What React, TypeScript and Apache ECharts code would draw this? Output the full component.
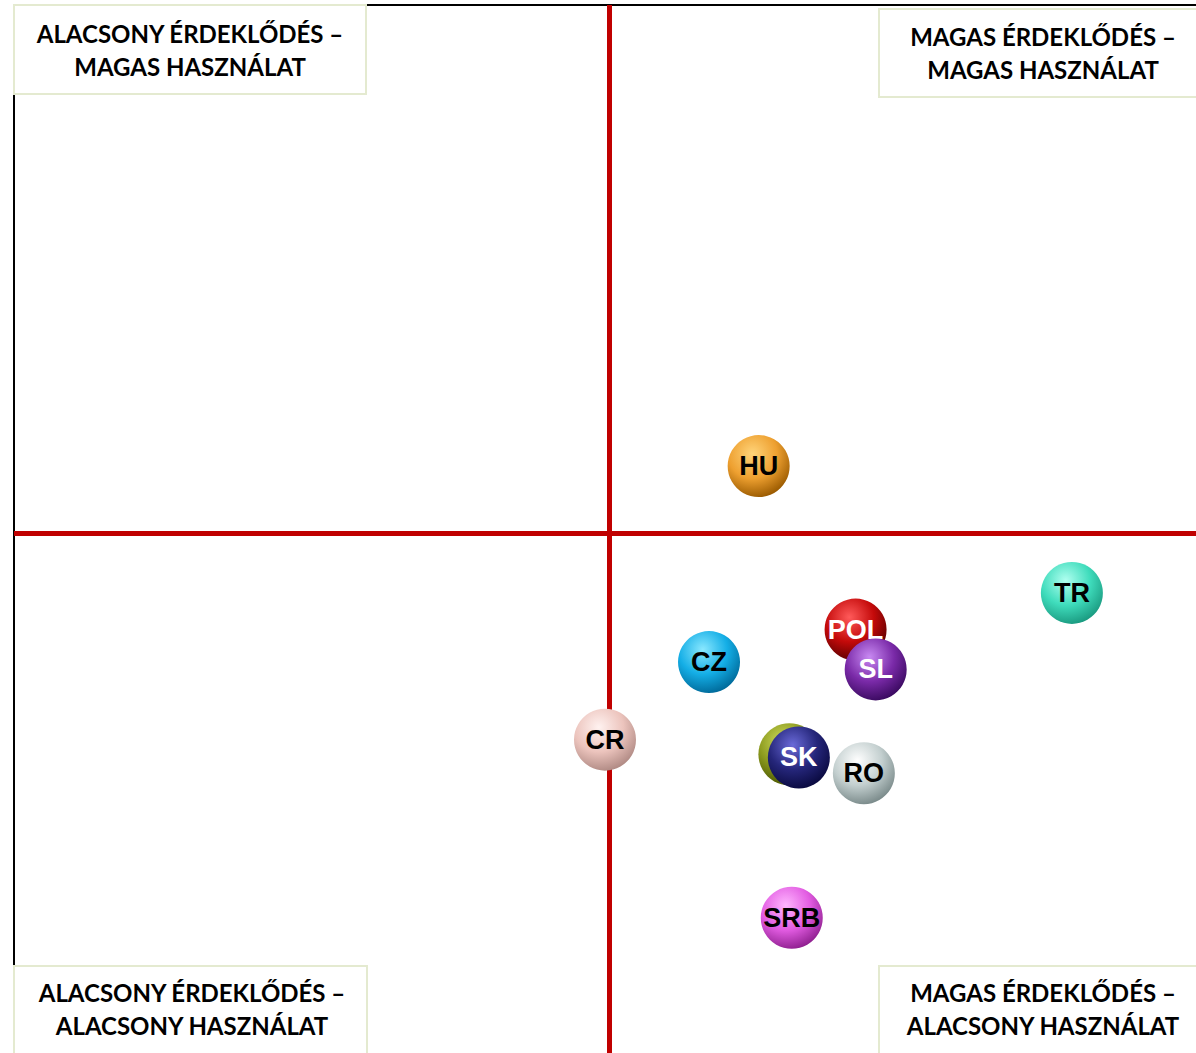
import React, { useEffect, useRef } from "react";
import * as echarts from "echarts";

const countries = ["HU", "TR", "CZ", "CR", "POL", "SL", "RO", "BG", "SK", "SRB"];
const interest = [6.3, 8.95, 5.88, 5.0, 7.12, 7.29, 7.19, 6.56, 6.64, 6.58];
const usage = [5.6, 4.39, 3.73, 2.99, 4.04, 3.66, 2.67, 2.85, 2.82, 1.29];
const baseColors = ["#eea030", "#3fdcbc", "#14aee6", "#ecc4bd", "#c40a0a", "#7a2aa8", "#c3cfcf", "#8c9a1e", "#25267a", "#e25ce2"];
const lightColors = ["#ffd47a", "#b0fff0", "#8ae8ff", "#fff2f0", "#ff5a5a", "#c889f2", "#ffffff", "#d2e060", "#6a6ad8", "#ffb6ff"];
const darkColors = ["#9a5a00", "#1a9a80", "#006a9a", "#b08a84", "#5a0000", "#3a0a60", "#7a8a8a", "#4a5600", "#0a0a40", "#902090"];
const labelColors = ["#000", "#000", "#000", "#000", "#fff", "#fff", "#000", "#000", "#fff", "#000"];

const midInterest = 5.04;
const midUsage = 4.96;

const quadrantTexts = [
  "ALACSONY ÉRDEKLŐDÉS –\nMAGAS HASZNÁLAT",
  "MAGAS ÉRDEKLŐDÉS –\nMAGAS HASZNÁLAT",
  "ALACSONY ÉRDEKLŐDÉS –\nALACSONY HASZNÁLAT",
  "MAGAS ÉRDEKLŐDÉS –\nALACSONY HASZNÁLAT",
];

export default function App() {
  const ref = useRef<HTMLDivElement>(null);
  useEffect(() => {
    document.body.style.margin = "0";
    const chart = echarts.init(ref.current!, undefined, { renderer: "svg" });

    const bubbleSeries = countries.map((c, i) => ({
      type: "scatter",
      name: c,
      z: 10 + i,
      symbolSize: 62,
      data: [[interest[i], usage[i]]],
      itemStyle: {
        opacity: 1,
        color: {
          type: "radial",
          x: 0.4,
          y: 0.3,
          r: 0.72,
          colorStops: [
            { offset: 0, color: lightColors[i] },
            { offset: 0.55, color: baseColors[i] },
            { offset: 1, color: darkColors[i] },
          ],
        },
      },
      label: {
        show: true,
        position: "inside",
        formatter: c,
        color: labelColors[i],
        fontFamily: "Liberation Sans, Arial, sans-serif",
        fontWeight: "bold",
        fontSize: 27,
      },
      emphasis: { disabled: true },
    }));

    const boxes = [
      { x: 14, y: 5, w: 352, h: 89, cx: 190, cy: 50 },
      { x: 879, y: 9, w: 318, h: 88, cx: 1043, cy: 53 },
      { x: 14, y: 966, w: 353, h: 89, cx: 192, cy: 1009 },
      { x: 879, y: 966, w: 318, h: 89, cx: 1043, cy: 1009 },
    ];

    const graphics: any[] = [];
    boxes.forEach((b, i) => {
      graphics.push({
        type: "rect",
        z: 200,
        shape: { x: b.x, y: b.y, width: b.w, height: b.h },
        style: { fill: "#ffffff", stroke: "#e4ead0", lineWidth: 2 },
      });
      graphics.push({
        type: "text",
        z: 201,
        x: b.cx,
        y: b.cy,
        style: {
          text: quadrantTexts[i],
          fill: "#000",
          font: "bold 24px Lato, sans-serif",
          align: "center",
          verticalAlign: "middle",
          lineHeight: 33,
        },
      });
    });

    chart.setOption({
      animation: false,
      grid: { left: 14, top: 5, right: 0, bottom: 0 },
      xAxis: {
        type: "value",
        min: 0,
        max: 10,
        position: "top",
        axisLine: { show: true, onZero: false, lineStyle: { color: "#000", width: 2 } },
        axisTick: { show: false },
        axisLabel: { show: false },
        splitLine: { show: false },
      },
      yAxis: {
        type: "value",
        min: 0,
        max: 10,
        position: "left",
        axisLine: { show: true, onZero: false, lineStyle: { color: "#000", width: 2 } },
        axisTick: { show: false },
        axisLabel: { show: false },
        splitLine: { show: false },
      },
      series: [
        ...bubbleSeries,
        {
          type: "scatter",
          z: 100,
          data: [],
          markLine: {
            silent: true,
            symbol: "none",
            label: { show: false },
            lineStyle: { color: "#c00000", width: 5, type: "solid" },
            data: [{ xAxis: midInterest }, { yAxis: midUsage }],
          },
        },
      ],
      graphic: graphics,
    });
    return () => chart.dispose();
  }, []);
  return <div ref={ref} style={{ width: 1196, height: 1053 }} />;
}
